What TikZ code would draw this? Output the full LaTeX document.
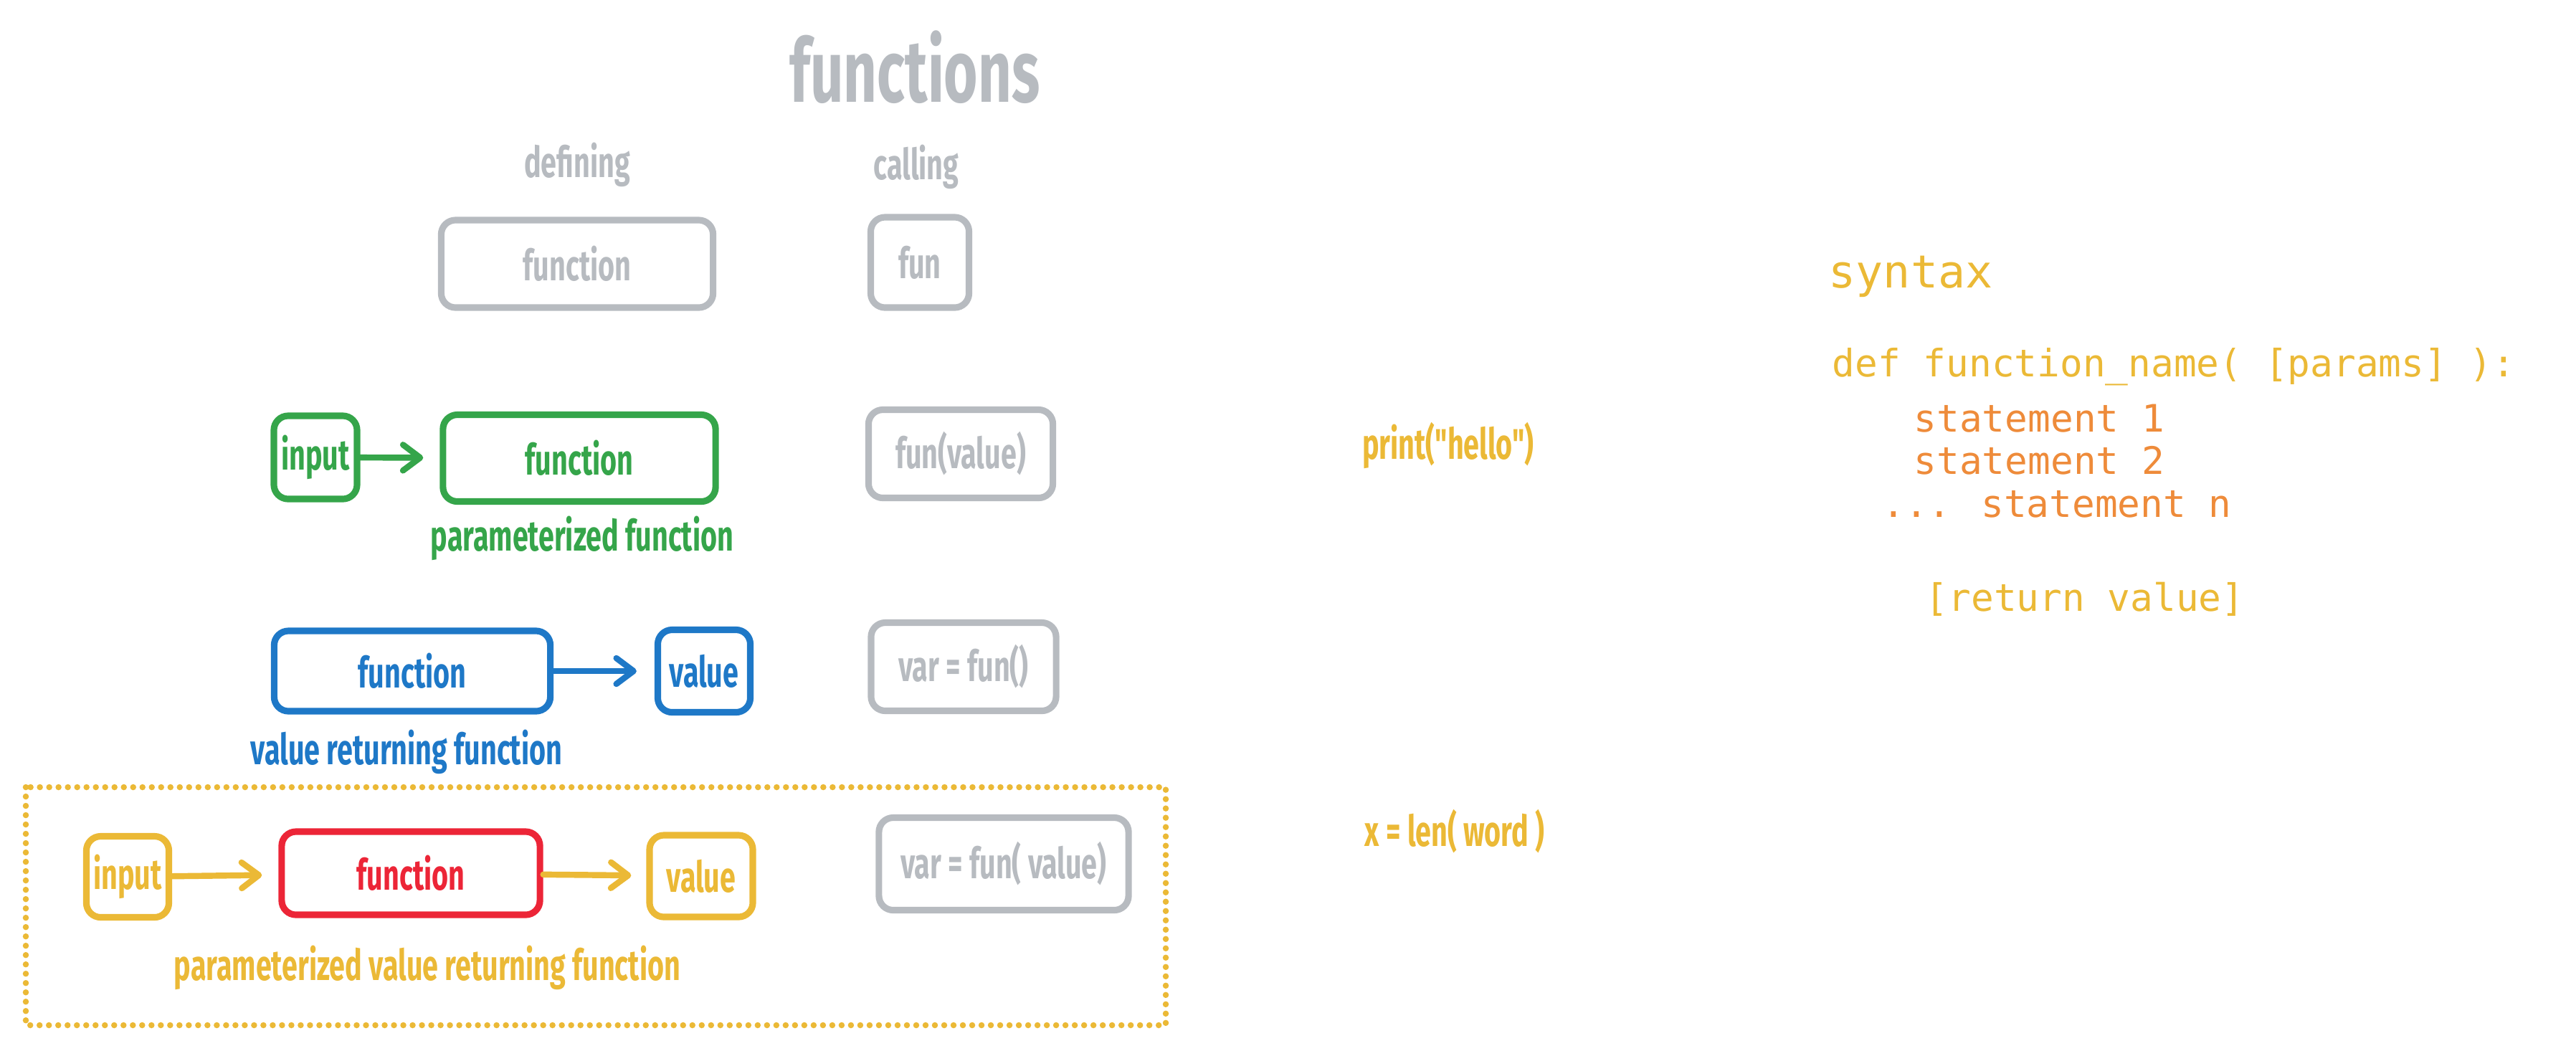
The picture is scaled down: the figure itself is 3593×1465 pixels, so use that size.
\documentclass[tikz,border=0pt]{standalone}
\usepackage{fontspec}
\usepackage{xcolor}
\usetikzlibrary{arrows,arrows.meta,positioning,calc}
\newfontfamily\handfont[FakeStretch=0.66]{Fira Sans}
\newfontfamily\codefont{DejaVu Sans Mono}
\definecolor{greyf}{HTML}{B7BBC0}
\definecolor{greenf}{HTML}{35A54A}
\definecolor{bluef}{HTML}{1E78C7}
\definecolor{redf}{HTML}{EC2537}
\definecolor{yellowf}{HTML}{EBB936}
\definecolor{orangef}{HTML}{EE8B3A}

\begin{document}
\begin{tikzpicture}[x = 0.01cm, y = -0.01cm,
  hand/.style = {font = \handfont\bfseries\fontsize{17}{20}\selectfont},
  box/.style = {draw, line width = 2.6pt, rounded corners = 0.2cm, inner sep = 0pt, hand},
  label/.style = {hand, anchor = base, inner sep = 0pt},
  code/.style = {font = \codefont\fontsize{15}{18}\selectfont, anchor = base west, inner sep = 0pt},
  link/.style = {-{Straight Barb[length = 0.24cm, width = 0.36cm, round]}, line width = 2.4pt, line cap = round}]
\useasboundingbox (0,0) rectangle (3593,1465);

% headings
\node[label, greyf, font = \handfont\bfseries\fontsize{35}{40}\selectfont] (title) at (1276,142) {functions};
\node[label, greyf] (defining) at (805,247) {defining};
\node[label, greyf] (calling) at (1278,250) {calling};

% plain function
\node[box, greyf, minimum width = 3.79cm, minimum height = 1.22cm] (fdef) at (805,368) {function};
\node[box, greyf, minimum width = 1.37cm, minimum height = 1.26cm] (fcall) at (1283,366) {fun};

% parameterized function
\node[box, greenf, minimum width = 1.16cm, minimum height = 1.16cm] (pin) at (440,638) {input};
\node[box, greenf, minimum width = 3.80cm, minimum height = 1.21cm] (pfun) at (808,639) {function};
\node[label, greenf] (plabel) at (812,768) {parameterized function};
\node[box, greyf, minimum width = 2.57cm, minimum height = 1.23cm] (pcall) at (1340,633) {fun(value)};
\draw[link, greenf, shorten >= 0.23cm] (pin) -- (pfun);

% value returning function
\node[box, bluef, minimum width = 3.85cm, minimum height = 1.12cm] (rfun) at (575,936) {function};
\node[box, bluef, minimum width = 1.29cm, minimum height = 1.15cm] (rval) at (982,936) {value};
\node[label, bluef] (rlabel) at (567,1066) {value returning function};
\node[box, greyf, minimum width = 2.58cm, minimum height = 1.23cm] (rcall) at (1344,930) {var = fun()};
\draw[link, bluef, shorten >= 0.25cm] (rfun) -- (rval);

% parameterized value returning function
\draw[yellowf, line width = 0.085cm, line cap = round, dash pattern = on 0cm off 0.13cm] (36,1098) rectangle (1626,1430);
\node[box, yellowf, minimum width = 1.15cm, minimum height = 1.13cm] (bin) at (178,1223) {input};
\node[box, redf, minimum width = 3.60cm, minimum height = 1.16cm] (bfun) at (573,1218) {function};
\node[box, yellowf, minimum width = 1.44cm, minimum height = 1.14cm] (bval) at (978,1222) {value};
\node[label, yellowf] (blabel) at (596,1367) {parameterized value returning function};
\node[box, greyf, minimum width = 3.48cm, minimum height = 1.29cm] (bcall) at (1400,1205) {var = fun( value)};
\draw[link, yellowf, shorten >= 0.23cm] (bin) -- (bfun);
\draw[link, yellowf, shorten >= 0.21cm] (bfun) -- (bval);

% examples
\node[label, yellowf] (hello) at (2020,640) {print("hello")};
\node[label, yellowf] (len) at (2029,1180) {x = len( word )};

% syntax
\node[code, yellowf, font = \codefont\fontsize{18}{22}\selectfont] (syntax) at (2550,401) {syntax};
\node[code, yellowf] (def) at (2555,525) {def function\_name( [params] ):};
\node[code, orangef] (s1) at (2669,602) {statement 1};
\node[code, orangef] (s2) at (2669,661) {statement 2};
\node[code, orangef] (sn) at (2625,721) {... statement n};
\node[code, yellowf] (ret) at (2685,852) {[return value]};
\end{tikzpicture}
\end{document}
